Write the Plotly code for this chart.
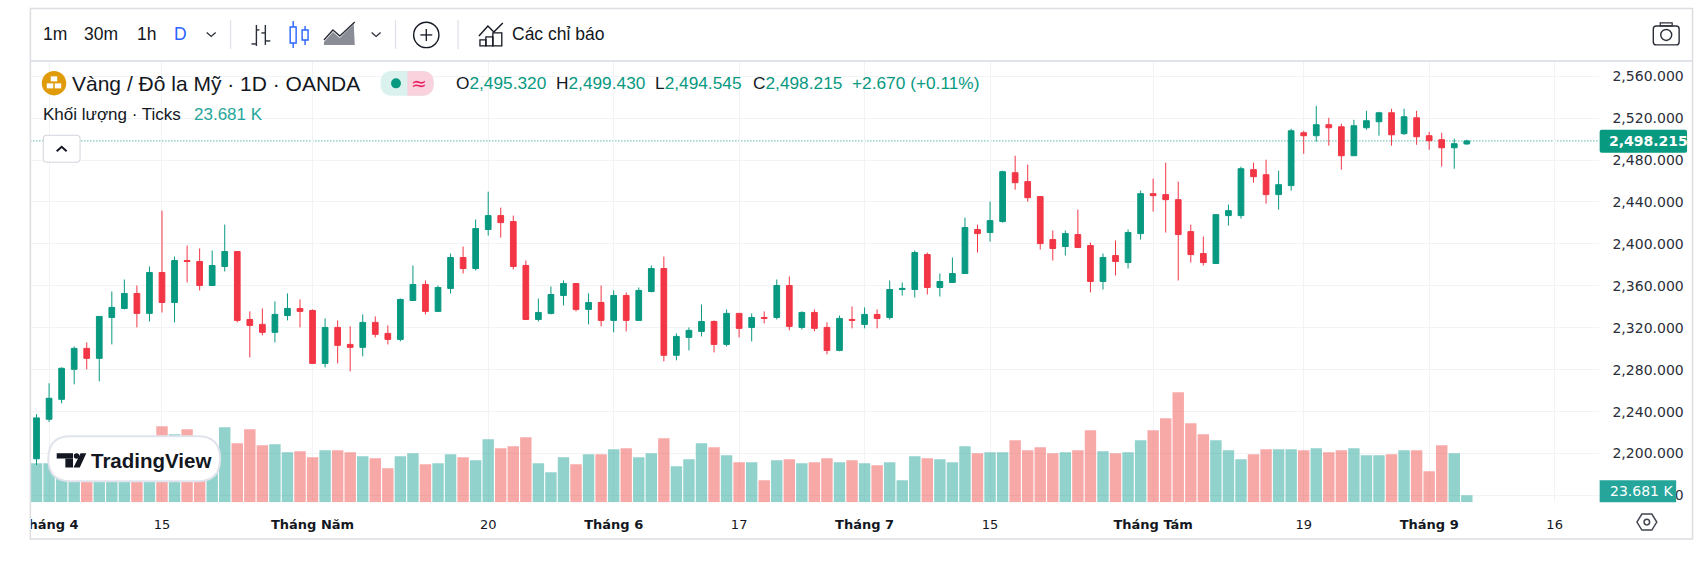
import plotly.graph_objects as go

# ---------- data ----------
opens = [2195,2232.7,2251.7,2280.3,2300.3,2290.8,2329.8,2338.4,2352.7,2333.7,
 2372.7,2344.1,2384.1,2383.2,2360.3,2378.4,2392.7,2327.9,2323.2,2315.6,
 2331.7,2338.4,2336.5,2286,2320.3,2304.1,2301.3,2325.1,2314.6,2308.9,
 2346,2361.3,2335.6,2357.5,2387,2376.5,2413.7,2427,2421.3,2379.4,
 2327.9,2333.7,2350.8,2362.2,2337.5,2344.1,2327,2350.8,2327,2354.6,
 2376.5,2293.7,2310.8,2316.5,2326,2304.1,2333.7,2320.3,2329.8,2329.8,
 2360.3,2320.3,2334.6,2320.3,2298.4,2327.9,2323.2,2332.7,2329.8,2356.5,
 2356.5,2389.8,2358.4,2363.2,2371.7,2413.7,2410.8,2421.3,2467.9,2459.4,
 2445.1,2404.1,2397.5,2408.9,2398.4,2364.1,2388.9,2382.2,2409.8,2447.9,
 2447,2442.2,2411.7,2390.8,2381.3,2427,2427,2470.8,2466,2447,
 2455.6,2506,2503.2,2513.7,2511.7,2484.1,2510.8,2516.5,2525.1,2505.1,
 2520.3,2503.2,2499.4,2491.7,2495.32]
highs = [2237.5,2267,2282.2,2302.2,2306,2330.8,2354.6,2366,2360.3,2378.4,
 2431.7,2387.9,2398.4,2395.6,2393.7,2418.4,2392.7,2335.6,2338.4,2345.1,
 2352.7,2347,2337.5,2328.9,2327,2321.3,2332.7,2330.8,2322.2,2347.9,
 2379.4,2365.1,2360.3,2390.8,2397.5,2423.2,2449.8,2434.6,2427,2384.1,
 2347.9,2359.4,2365.1,2362.2,2352.7,2360.3,2355.6,2353.7,2358.4,2379.4,
 2387.9,2314.6,2320.3,2342.2,2327,2337.5,2333.7,2333.7,2335.6,2366,
 2368.9,2335.6,2337.5,2325.1,2331.7,2340.3,2339.4,2337.5,2365.1,2363.2,
 2393.7,2391.7,2371.7,2387,2425.1,2418.4,2440.3,2469.8,2484.1,2475.6,
 2445.1,2412.7,2412.7,2432.7,2401.3,2390.8,2403.2,2413.7,2450.8,2462.2,
 2477.5,2459.4,2418.4,2407,2427.9,2437.5,2473.7,2477.5,2480.3,2469.8,
 2509.8,2507.9,2531.7,2520.3,2514.6,2518.4,2527,2526,2528.9,2528.9,
 2527,2507,2506,2500.3,2499.43]
lows = [2189,2230.2,2247.9,2266,2280.3,2268.9,2304.1,2337.5,2320.3,2326,
 2334.6,2325.1,2363.2,2355.6,2360.3,2373.7,2325.1,2291.7,2312.7,2306,
 2327,2320.3,2286,2282.2,2286,2278.4,2292.7,2310.8,2304.1,2307,
 2346,2332.7,2335.6,2352.7,2371.7,2374.6,2407.9,2406,2375.6,2327.9,
 2326,2332.7,2341.3,2335.6,2323.2,2321.3,2315.6,2316.5,2327,2353.7,
 2287.9,2288.9,2298.4,2311.7,2296.5,2302.2,2310.8,2307,2324.1,2327.9,
 2317.5,2318.4,2316.5,2294.6,2297.5,2319.4,2319.4,2319.4,2327.9,2350.8,
 2348.9,2351.7,2349.8,2363.2,2371.7,2391.7,2402.2,2420.3,2451.7,2440.3,
 2394.6,2384.1,2388.9,2396.5,2353.7,2356.5,2369.8,2376.5,2404.1,2430.8,
 2410.8,2365.1,2382.2,2379.4,2381.3,2417.5,2424.1,2458.4,2438.4,2432.7,
 2450.8,2486,2497.5,2493.7,2470.8,2484.1,2508.9,2503.2,2493.7,2504.1,
 2494.6,2489.8,2473.7,2471.7,2494.545]
closes = [2234,2252.7,2281.3,2300.3,2290.8,2330.8,2339.4,2352.7,2333.7,2372.7,
 2344.1,2384.1,2383.2,2360.3,2379.4,2392.7,2327,2322.2,2315.6,2332.7,
 2338.4,2335.6,2286,2320.3,2303.2,2301.3,2325.1,2313.7,2308.9,2347,
 2361.3,2335.6,2358.4,2387,2376.5,2414.6,2427,2420.3,2378.4,2327.9,
 2334.6,2351.7,2362.2,2337.5,2344.1,2327,2350.8,2327,2355.6,2376.5,
 2293.7,2311.7,2317.5,2326,2304.1,2333.7,2319.4,2329.8,2328.9,2360.3,
 2321.3,2334.6,2319.4,2298.4,2328.9,2327,2332.7,2328.9,2356.5,2357.5,
 2391.7,2358.4,2364.1,2371.7,2415.6,2409.8,2422.2,2468.9,2458.4,2444.1,
 2400.3,2395.6,2409.8,2396.5,2364.1,2387,2383.2,2410.8,2447.9,2446,
 2442.2,2408.9,2389.8,2382.2,2427.9,2431.7,2471.7,2464.1,2447,2456.5,
 2507.9,2503.2,2513.7,2510.8,2484.1,2512.7,2517.5,2525.1,2504.1,2521.3,
 2502.2,2498.4,2491.7,2495.6,2498.215]
volumes_k = [131.9,131.9,156.8,168,151,168,157,157,185,196,
 257.1,230,247,213,190.6,253.7,199.6,247,192.8,196.2,
 169.2,172.5,152.2,175.9,175.9,169.2,155.6,148.9,115,155.6,
 165.8,128.6,131.9,162.4,152.2,142.1,213.1,182.7,189.5,219.9,
 131.9,101.5,152.2,128.6,162.4,162.4,179.3,182.7,152.2,165.8,
 216.5,121.8,145.5,199.6,186.1,159,135.3,135.3,74.4,142.1,
 145.5,131.9,135.3,148.9,135.3,142.1,131.9,125.2,135.3,74.4,
 155.6,148.9,145.5,135.3,189.5,165.8,169.2,169.2,209.8,175.9,
 186.1,165.8,169.2,175.9,243.6,172.5,165.8,169.2,209.8,243.6,
 284.2,372.1,267.3,230,209.8,175.9,145.5,162.4,179.3,179.3,
 179.3,175.9,182.7,169.2,175.9,182.7,159,159,162.4,175.9,
 175.9,104.9,192.8,165.8,23.681]
bar_index = list(range(len(opens)))

date_tick_bars = [1,10,22,36,46,56,66,76,89,101,111,121]
date_tick_labels = ["<b>Tháng 4</b>","15","<b>Tháng Năm</b>","20","<b>Tháng 6</b>","17",
                    "<b>Tháng 7</b>","15","<b>Tháng Tám</b>","19","<b>Tháng 9</b>","16"]
price_ticks = [2160,2200,2240,2280,2320,2360,2400,2440,2480,2520,2560]
price_tick_labels = [f"{p:,.3f}" for p in price_ticks]

W, H = 1700, 587
UP, DOWN = "#089981", "#F23645"
VOL_UP, VOL_DOWN = "rgba(38,166,154,0.5)", "rgba(239,83,80,0.5)"
INK, GRID, EDGE = "#131722", "#f2f3f5", "#dcdde1"

def px(x): return x / W
def py(y): return 1 - y / H

# pixel frame of the chart pane and of the price scale
PANE_L, PANE_R, PANE_T, PANE_B = 19.5, 1598, 61, 503
BAR0_X, BAR_STEP = 25.7, 12.628
PX_PER_UNIT = 1.05
PX_PER_K = 7 / 23.681
x_range = [(PANE_L - BAR0_X) / BAR_STEP, (PANE_R - BAR0_X) / BAR_STEP]
y_range = [2480 - (PANE_B - 160.3) / PX_PER_UNIT, 2480 + (160.3 - PANE_T) / PX_PER_UNIT]
vol_range = [0, (PANE_B - PANE_T) / PX_PER_K]

shapes, notes = [], []

def rect(x0, y0, x1, y1, fill=None, line=None, w=1, layer="above"):
    shapes.append(dict(type="rect", xref="paper", yref="paper", x0=px(x0), x1=px(x1), y0=py(y0), y1=py(y1),
                       fillcolor=fill or "rgba(0,0,0,0)", line=dict(color=line or "rgba(0,0,0,0)", width=w if line else 0), layer=layer))

def circle(cx, cy, r, fill=None, line=None, w=1):
    shapes.append(dict(type="circle", xref="paper", yref="paper", x0=px(cx-r), x1=px(cx+r), y0=py(cy-r), y1=py(cy+r),
                       fillcolor=fill or "rgba(0,0,0,0)", line=dict(color=line or "rgba(0,0,0,0)", width=w if line else 0), layer="above"))

def poly(points, fill=None, line=None, w=1, close=False):
    d = "M " + " L ".join(f"{px(a):.6f},{py(b):.6f}" for a, b in points) + (" Z" if close else "")
    shapes.append(dict(type="path", xref="paper", yref="paper", path=d,
                       fillcolor=fill or "rgba(0,0,0,0)", line=dict(color=line or "rgba(0,0,0,0)", width=w if line else 0), layer="above"))

def rounded(x0, y0, x1, y1, r, fill=None, line=None, w=1):
    d = (f"M {px(x0+r):.6f},{py(y0):.6f} L {px(x1-r):.6f},{py(y0):.6f} Q {px(x1):.6f},{py(y0):.6f} {px(x1):.6f},{py(y0+r):.6f} "
         f"L {px(x1):.6f},{py(y1-r):.6f} Q {px(x1):.6f},{py(y1):.6f} {px(x1-r):.6f},{py(y1):.6f} "
         f"L {px(x0+r):.6f},{py(y1):.6f} Q {px(x0):.6f},{py(y1):.6f} {px(x0):.6f},{py(y1-r):.6f} "
         f"L {px(x0):.6f},{py(y0+r):.6f} Q {px(x0):.6f},{py(y0):.6f} {px(x0+r):.6f},{py(y0):.6f} Z")
    shapes.append(dict(type="path", xref="paper", yref="paper", path=d,
                       fillcolor=fill or "rgba(0,0,0,0)", line=dict(color=line or "rgba(0,0,0,0)", width=w if line else 0), layer="above"))

def label(text, x, y, size, color=INK, anchor="left", family="Liberation Sans", yref="paper"):
    notes.append(dict(text=text, x=px(x), y=(py(y) if yref == "paper" else y), xref="paper", yref=yref,
                      xanchor=anchor, yanchor="middle", showarrow=False, align=anchor,
                      font=dict(size=size, color=color, family=family), borderpad=0, borderwidth=0))

# ---------- frame ----------
rect(0, 503, PANE_L, 545, fill="white")                     # clips the first date label
rect(PANE_L, 8.5, 1692.5, 540, line=EDGE, w=1.5)
poly([(PANE_L, 61), (1692.5, 61)], line="#e0e3eb", w=2)

# ---------- toolbar ----------
label("1m", 32, 34.5, 17.5); label("30m", 73.5, 34.5, 17.5); label("1h", 127, 34.5, 17.5)
label("D", 164.5, 34.5, 17.5, color="#2962ff")
poly([(197, 32.5), (201.5, 36.5), (206, 32.5)], line="#2a2e39", w=1.3)
poly([(363, 32.5), (367.5, 36.5), (372, 32.5)], line="#2a2e39", w=1.3)
for sx in (221, 387, 450):
    poly([(sx, 20), (sx, 49)], line="#e0e3eb", w=1.3)
# bar-style icon
poly([(247, 25), (247, 46)], line="#2a2e39", w=1.4); poly([(247, 30), (250, 30)], line="#2a2e39", w=1.4); poly([(242, 44), (247, 44)], line="#2a2e39", w=1.4)
poly([(256, 25), (256, 45)], line="#2a2e39", w=1.4); poly([(252, 33), (256, 33)], line="#2a2e39", w=1.4); poly([(256, 41), (261, 41)], line="#2a2e39", w=1.4)
# candle-style icon (active)
poly([(284, 21), (284, 48)], line="#2962ff", w=1.4); rect(281, 27, 287, 43, fill="white", line="#2962ff", w=1.4)
poly([(296, 26), (296, 45)], line="#2962ff", w=1.4); rect(293, 30, 299, 40, fill="white", line="#2962ff", w=1.4)
# area-style icon
poly([(315, 45), (315, 42), (324, 32), (331, 38), (345, 24), (346, 45)], fill="#8a8d96", close=True)
poly([(315, 40), (324, 30), (331, 36), (346, 22)], line="#2a2e39", w=1.4)
# add button
circle(418, 35, 12.7, line=INK, w=1.4)
poly([(418, 29), (418, 41)], line=INK, w=1.3); poly([(412, 35), (424, 35)], line=INK, w=1.3)
# indicators icon
poly([(471, 36), (480, 26), (486, 32), (495, 23)], line=INK, w=1.4)
rect(472, 40, 478, 46, line=INK, w=1.3); rect(478, 37, 485, 46, line=INK, w=1.3); rect(485, 33, 494, 46, line=INK, w=1.3)
label("Các chỉ báo", 504, 34.5, 17.5)
# camera icon
rounded(1653, 26, 1679, 45, 3, line="#2a2e39", w=1.4)
rect(1660, 23, 1672, 26, line="#2a2e39", w=1.2)
circle(1666, 35, 5.5, line="#2a2e39", w=1.4)

# ---------- legend ----------
circle(43.3, 83.3, 12.3, fill="#e09b0b")
rect(40, 76.5, 46.5, 81.5, fill="white"); rect(36, 83.5, 42.5, 88.5, fill="white"); rect(44, 83.5, 50.5, 88.5, fill="white")
label("Vàng / Đô la Mỹ · 1D · OANDA", 61, 83.5, 21)
rounded(372, 71, 425.5, 96, 12, fill="#daf1ed")
d_right = (f"M {px(399):.6f},{py(71):.6f} L {px(413):.6f},{py(71):.6f} Q {px(425.5):.6f},{py(71):.6f} {px(425.5):.6f},{py(83.5):.6f} "
           f"Q {px(425.5):.6f},{py(96):.6f} {px(413):.6f},{py(96):.6f} L {px(399):.6f},{py(96):.6f} Z")
shapes.append(dict(type="path", xref="paper", yref="paper", path=d_right, fillcolor="#f9d2de", line=dict(width=0), layer="above"))
circle(387.5, 83.5, 5, fill=UP)
label("≈", 411, 83.5, 19, color="#e91e63", anchor="center", family="DejaVu Sans")
TEAL = "#089981"
ohlc_labels = ["O", "H", "L", "C"]
ohlc_values = [opens[-1], highs[-1], lows[-1], closes[-1]]
for name, value, x in zip(ohlc_labels, ohlc_values, (448, 549, 648.5, 746.5)):
    label(f'{name}<span style="color:{TEAL}">{value:,.3f}</span>', x, 83.5, 17.3)
label("+2.670 (+0.11%)", 846.5, 83.5, 17.3, color=TEAL)
label("Khối lượng · Ticks", 32, 115, 17)
label(f"{volumes_k[-1]:.3f} K", 184, 115, 17, color="#26a69a")
# collapse button
rounded(32.5, 135.5, 69.5, 162.5, 3, fill="white", line="#d1d4dc", w=1)
poly([(46, 151.5), (51, 147), (56, 151.5)], line=INK, w=2)

# ---------- price tags ----------
rounded(1599, 130, 1687, 153, 2, fill=UP)
label(f"<b>{closes[-1]:,.3f}</b>", 1608, closes[-1], 14, color="white", family="DejaVu Sans", yref="y2")
rect(1599, 481, 1676, 503, fill="#26a69a")
label(f"{volumes_k[-1]:.3f} K", 1609, 492, 14, color="white", family="DejaVu Sans")

# ---------- settings hexagon ----------
poly([(1636.5, 523), (1641.5, 515), (1651.5, 515), (1656.5, 523), (1651.5, 531), (1641.5, 531)], line="#434651", w=1.5, close=True)
circle(1646.5, 523, 2.8, line="#434651", w=1.5)

# ---------- logo ----------
rounded(37.5, 437, 210.5, 482, 22.5, fill="white", line="#e0e3eb", w=2)
rect(46, 454, 62.4, 459.3, fill=INK); rect(54.7, 459.3, 62.4, 468.3, fill=INK)
circle(66, 456.7, 2.8, fill=INK)
poly([(70, 454), (75.8, 454), (69.2, 468.3), (62.9, 468.3)], fill=INK, close=True)
label("<b>TradingView</b>", 81, 461, 20.5)

# ---------- last price line ----------
shapes.append(dict(type="line", xref="paper", yref="y2", x0=px(PANE_L), x1=px(PANE_R), y0=closes[-1], y1=closes[-1],
                   line=dict(color=UP, width=1, dash="1px,2px"), layer="below"))

fig = go.Figure()
fig.add_trace(go.Bar(x=bar_index, y=volumes_k, width=0.91, yaxis="y", xaxis="x",
                     marker=dict(color=[VOL_UP if c >= o else VOL_DOWN for o, c in zip(opens, closes)], line=dict(width=0)),
                     hoverinfo="skip"))
fig.add_trace(go.Candlestick(x=bar_index, open=opens, high=highs, low=lows, close=closes, yaxis="y2", xaxis="x",
                             whiskerwidth=0,
                             increasing=dict(line=dict(color=UP, width=1), fillcolor=UP),
                             decreasing=dict(line=dict(color=DOWN, width=1), fillcolor=DOWN),
                             hoverinfo="skip"))

y_dom = [py(PANE_B), py(PANE_T)]
fig.update_layout(
    width=W, height=H, margin=dict(l=0, r=0, t=0, b=0), autosize=False,
    paper_bgcolor="white", plot_bgcolor="white", showlegend=False, hovermode=False, boxgap=0.35, dragmode=False,
    xaxis=dict(domain=[px(PANE_L), px(PANE_R)], range=x_range, tickmode="array", tickvals=date_tick_bars, ticktext=date_tick_labels,
               showgrid=True, gridcolor=GRID, gridwidth=1, zeroline=False, showline=False, ticks="outside", ticklen=10,
               tickcolor="rgba(0,0,0,0)", tickfont=dict(size=13, family="DejaVu Sans", color=INK),
               rangeslider=dict(visible=False), anchor="y"),
    yaxis=dict(domain=y_dom, range=vol_range, visible=False, showgrid=False, zeroline=False),
    yaxis2=dict(domain=y_dom, range=y_range, overlaying="y", side="right", anchor="x", tickmode="array", tickvals=price_ticks,
                ticktext=price_tick_labels, showgrid=True, gridcolor=GRID, gridwidth=1, zeroline=False, showline=False,
                ticks="outside", ticklen=10, tickcolor="rgba(0,0,0,0)",
                tickfont=dict(size=14, family="DejaVu Sans", color="#2a2e39")),
    shapes=shapes, annotations=notes)

fig.write_html("out.html", config=dict(displayModeBar=False, staticPlot=True),
               post_script="document.body.style.margin='0';")
